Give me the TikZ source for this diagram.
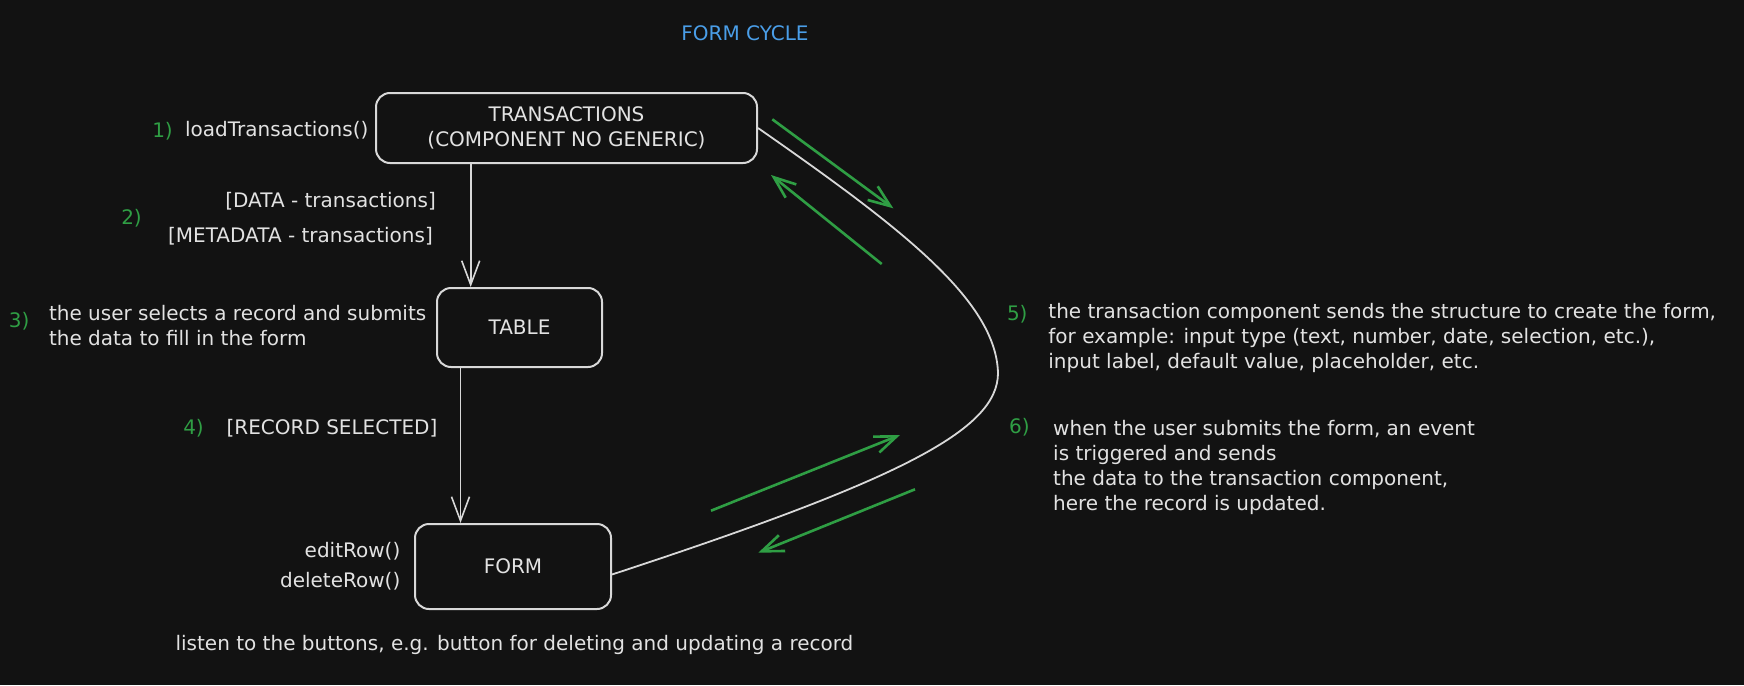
\documentclass[tikz,border=0pt]{standalone}
\usepackage{fontspec}
\setmainfont{DejaVu Sans}
\usetikzlibrary{arrows.meta}
\definecolor{bg}{HTML}{121212}
\definecolor{fg}{HTML}{E2E2E2}
\definecolor{ln}{HTML}{D8D8D8}
\definecolor{grn}{HTML}{2F9E44}
\definecolor{blu}{HTML}{4A9EE8}
\begin{document}
\begin{tikzpicture}[x=1pt,y=-1pt,
  txt/.style={font=\fontsize{20}{25}\selectfont, text=fg, inner sep=0pt},
  num/.style={txt, text=grn},
  box/.style={draw=ln, line width=2pt, rounded corners=14pt, txt, align=center},
  flow/.style={draw=ln, line width=1.6pt, -{Straight Barb[length=24pt,width=18pt]}},
  garrow/.style={draw=grn, line width=2.6pt, -{Straight Barb[length=22pt,width=17pt]}},
]
\fill[bg] (0,0) rectangle (1744,685);
\useasboundingbox (0,0) rectangle (1744,685);

% title
\node[txt, text=blu, anchor=base] (title) at (745,40.5) {FORM CYCLE};

% boxes
\node[box, minimum width=381pt, minimum height=70pt] (trans) at (566.5,128) {TRANSACTIONS\\(COMPONENT NO GENERIC)};
\node[box, minimum width=165pt, minimum height=79pt] (table) at (519.5,327.5) {TABLE};
\node[box, minimum width=196pt, minimum height=85pt] (form) at (513,566.5) {FORM};

% labels
\node[num, anchor=base east] (n1) at (173,137) {1)};
\node[txt, anchor=base east] (load) at (368.5,136.5) {loadTransactions()};
\node[txt, anchor=base east] (data) at (436,207) {[DATA - transactions]};
\node[txt, anchor=base east] (meta) at (433,242) {[METADATA - transactions]};
\node[num, anchor=base east] (n2) at (142,224) {2)};
\node[num, anchor=base west] (n3) at (8.6,327) {3)};
\node[txt, anchor=base west] (t3) at (48.8,320.3) {\begin{tabular}[t]{@{}l@{}}the user selects a record and submits\\the data to fill in the form\end{tabular}};
\node[num, anchor=base east] (n4) at (204,434.3) {4)};
\node[txt, anchor=base] (rec) at (332,434.3) {[RECORD SELECTED]};
\node[txt, anchor=base east] (edit) at (400.5,557) {editRow()};
\node[txt, anchor=base east] (del) at (400.5,587.7) {deleteRow()};
\node[txt, anchor=base west] (listen) at (175.4,650.3) {listen to the buttons, e.g. button for deleting and updating a record};
\node[num, anchor=base west] (n5) at (1006.8,320.3) {5)};
\node[txt, anchor=base west] (t5) at (1048.2,318.7) {\begin{tabular}[t]{@{}l@{}}the transaction component sends the structure to create the form,\\for example: input type (text, number, date, selection, etc.),\\input label, default value, placeholder, etc.\end{tabular}};
\node[num, anchor=base west] (n6) at (1009,433.7) {6)};
\node[txt, anchor=base west] (t6) at (1053,435.3) {\begin{tabular}[t]{@{}l@{}}when the user submits the form, an event\\is triggered and sends\\the data to the transaction component,\\here the record is updated.\end{tabular}};

% vertical flow arrows
\coordinate (x1) at (470.7,0);
\coordinate (x2) at (460.5,0);
\draw[flow] (x1 |- trans.south) -- (x1 |- table.north);
\draw[flow] (x2 |- table.south) -- (x2 |- form.north);

% big curve between transactions and form
\coordinate (apex) at (998,373);
\draw[ln, line width=1.8pt] (trans.east) .. controls (900,227) and (996,300) .. (apex)
  .. controls (998,430) and (900,480) .. ([yshift=-8pt]form.east);

% green direction arrows
\coordinate (g1s) at (772.3,119.3); \coordinate (g1e) at (893.3,208.3);
\coordinate (g2s) at (881.7,264);   \coordinate (g2e) at (771,175);
\coordinate (g3s) at (711,510.7);   \coordinate (g3e) at (900,435);
\coordinate (g4s) at (915,489.3);   \coordinate (g4e) at (758.3,552.7);
\draw[garrow] (g1s) -- (g1e);
\draw[garrow] (g2s) -- (g2e);
\draw[garrow] (g3s) -- (g3e);
\draw[garrow] (g4s) -- (g4e);
\end{tikzpicture}
\end{document}
